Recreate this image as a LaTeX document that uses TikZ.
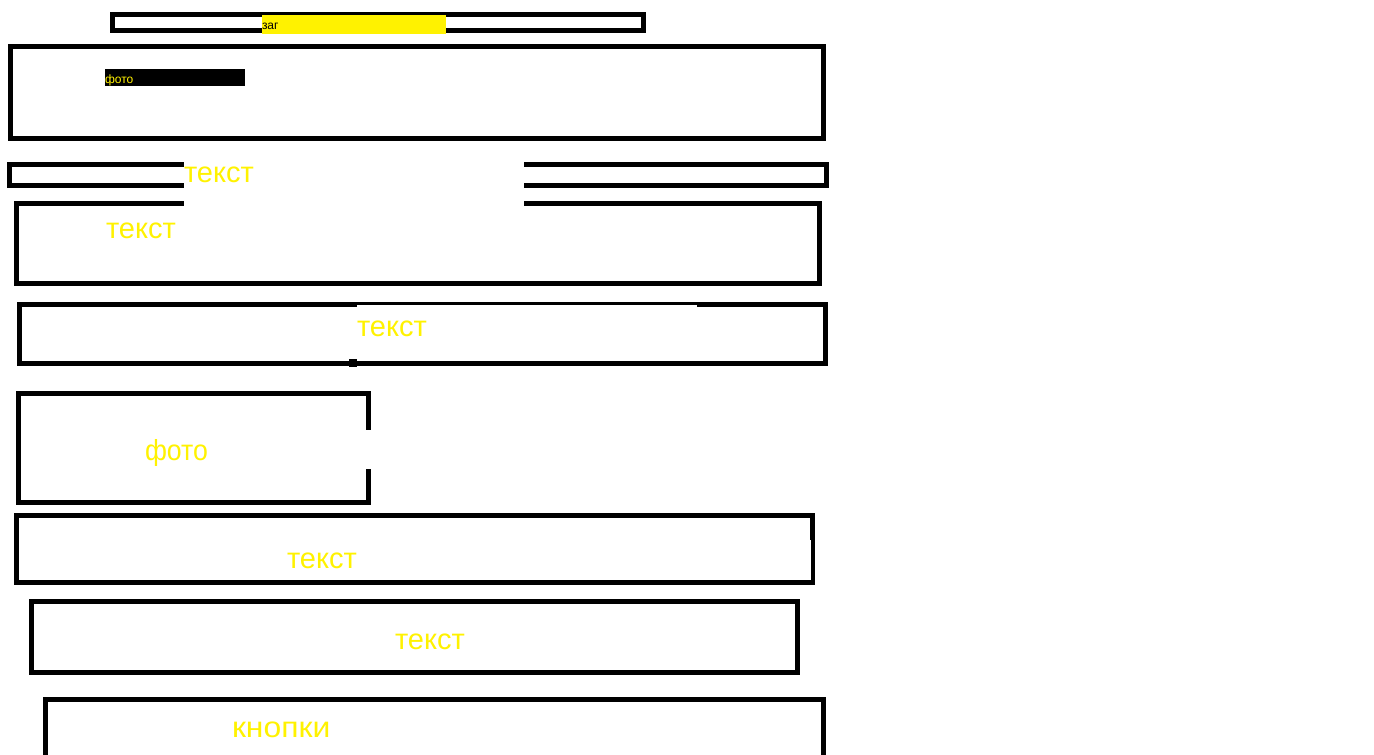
\documentclass[tikz,border=0pt]{standalone}
\usepackage{fontspec}
\setmainfont{Liberation Sans}
\definecolor{labelyellow}{RGB}{255,242,0}
\begin{document}
\begin{tikzpicture}[x=1pt,y=-1pt,
	frame/.style={draw=black,line width=5pt},
	cover/.style={fill=white},
	bigtext/.style={anchor=base west,inner sep=0pt,outer sep=0pt,text=labelyellow,font=\fontsize{29}{34}\selectfont},
	smalltext/.style={anchor=base west,inner sep=0pt,outer sep=0pt,font=\fontsize{12}{14}\selectfont}]
	\clip (0,0) rectangle (1374,755);
	\fill[white] (0,0) rectangle (1374,755);

	\draw[frame] (112.5,14.5) rectangle (643.5,30.5);
	\fill[labelyellow] (262,15) rectangle (446,34);
	\node[smalltext,text=black] (zag) at (262,29) {заг};

	\draw[frame] (10.5,46.5) rectangle (823.5,138.5);
	\fill[black] (105,69) rectangle (245,86);
	\node[smalltext,text=labelyellow] (fotosmall) at (105,83) {фото};

	\draw[frame] (9.5,164.5) rectangle (826.5,185.5);
	\draw[frame] (16.5,203.5) rectangle (819.5,283.5);
	\fill[cover] (184,159) rectangle (524,207);
	\node[bigtext] (tekst1) at (184,182.5) {текст};
	\node[bigtext] (tekst2) at (106,238) {текст};

	\draw[frame] (19.5,304.5) rectangle (825.5,363.5);
	\fill[cover] (357,304.5) rectangle (697,361);
	\fill[black] (349,359) rectangle (357,367);
	\node[bigtext] (tekst3) at (357,336) {текст};

	\draw[frame] (18.5,393.5) rectangle (368.5,502.5);
	\fill[cover] (363,430) rectangle (374,469);
	\node[bigtext] (foto) at (145,460) {\scalebox{0.92}[1]{фото}};

	\draw[frame] (16.5,515.5) rectangle (812.5,582.5);
	\fill[cover] (19,540) rectangle (811,580);
	\node[bigtext] (tekst4) at (287,568) {текст};

	\draw[frame] (31.5,601.5) rectangle (797.5,672.5);
	\node[bigtext] (tekst5) at (395,649.5) {текст};

	\draw[frame] (45.5,699.5) rectangle (823.5,780);
	\node[bigtext] (knopki) at (232,737) {\scalebox{1.1}[1]{кнопки}};
\end{tikzpicture}
\end{document}
